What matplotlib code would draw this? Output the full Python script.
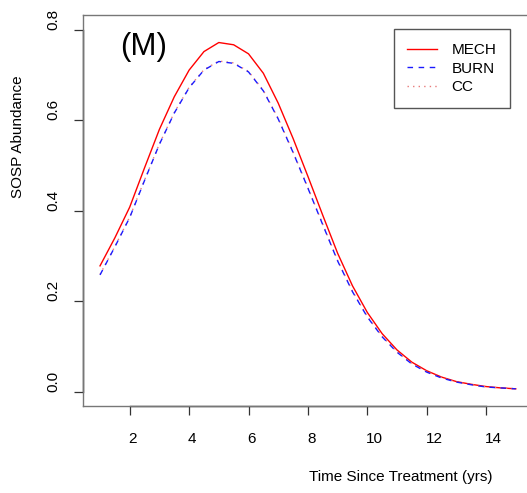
import matplotlib
matplotlib.use("Agg")
import matplotlib.pyplot as plt
import matplotlib.lines as mlines
from matplotlib.transforms import ScaledTranslation

plt.rcParams['font.family'] = ['Liberation Sans', 'DejaVu Sans']

# years since treatment
years = [1, 1.5, 2, 2.5, 3, 3.5, 4, 4.5, 5, 5.5, 6, 6.5, 7, 7.5, 8,
         8.5, 9, 9.5, 10, 10.5, 11, 11.5, 12, 12.5, 13, 13.5, 14, 14.5, 15]

mech = [0.278, 0.340, 0.408, 0.495, 0.580, 0.652, 0.711, 0.752, 0.772, 0.767,
        0.747, 0.704, 0.638, 0.560, 0.476, 0.390, 0.306, 0.234, 0.175, 0.128,
        0.092, 0.065, 0.046, 0.032, 0.022, 0.016, 0.011, 0.008, 0.006]
burn = [0.258, 0.320, 0.385, 0.467, 0.547, 0.616, 0.672, 0.711, 0.730, 0.726,
        0.707, 0.665, 0.603, 0.529, 0.450, 0.369, 0.289, 0.221, 0.165, 0.121,
        0.087, 0.061, 0.043, 0.030, 0.021, 0.015, 0.010, 0.008, 0.006]
cc = [0.259, 0.321, 0.386, 0.468, 0.548, 0.617, 0.673, 0.712, 0.731, 0.727,
      0.708, 0.666, 0.604, 0.530, 0.451, 0.370, 0.290, 0.222, 0.166, 0.122,
      0.088, 0.062, 0.044, 0.031, 0.021, 0.015, 0.010, 0.008, 0.006]

xticks = [2, 4, 6, 8, 10, 12, 14]
yticks = [0.0, 0.2, 0.4, 0.6, 0.8]

W, H = 527, 493
fig = plt.figure(figsize=(W / 100, H / 100), dpi=100)
# axes runs a bit past the right edge, like the cropped original
ax = fig.add_axes([83.4 / W, (H - 406) / H, 449 / W, 390.6 / H])

l_mech, = ax.plot(years, mech, color='#ff0000', lw=1.0)
ax.plot(years, cc, color='#e87a7a', lw=1.0, ls=(0, (1, 3)))
l_burn, = ax.plot(years, burn, color='#1a1aff', lw=1.0, ls=(0, (4, 4)))
cc_handle = mlines.Line2D([], [], color='#e87a7a', lw=1.0, ls=(0, (1, 3)))

ax.set_xlim(0.44, 15.56)
ax.set_ylim(-0.032, 0.832)

ax.set_xticks(xticks)
ax.set_xticklabels([str(t) for t in xticks])
ax.set_yticks(yticks)
ax.set_yticklabels(['%.1f' % t for t in yticks], rotation=90)

ax.tick_params(axis='both', direction='out', length=6.5, width=0.9,
               color='#333333', labelsize=11)
ax.tick_params(axis='x', pad=12)
ax.tick_params(axis='y', pad=10)
for lab in ax.get_yticklabels():
    lab.set_va('bottom')
for lab in ax.get_xticklabels():
    lab.set_ha('left')
    lab.set_transform(lab.get_transform() + ScaledTranslation(-1 / 100, 0, fig.dpi_scale_trans))

for s in ['left', 'bottom', 'top', 'right']:
    ax.spines[s].set_color('#777777')
    ax.spines[s].set_linewidth(1.0)

# darker axis lines between the first and last tick
ax.plot([0, 0], [0.0, 0.8], color='#222222', lw=1.0, clip_on=False,
        transform=ax.get_yaxis_transform())
ax.plot([2, 14], [0, 0], color='#222222', lw=1.0, clip_on=False,
        transform=ax.get_xaxis_transform())

leg = ax.legend([l_mech, l_burn, cc_handle], ['MECH', 'BURN', 'CC'],
                loc='upper right', bbox_to_anchor=(0.950, 0.964),
                borderaxespad=0, fontsize=11, handlelength=1.95,
                handletextpad=0.93, borderpad=0.9, labelspacing=0.3,
                fancybox=False, framealpha=1)
leg.get_frame().set_edgecolor('#555555')
leg.get_frame().set_linewidth(1.0)

fig.text(143.6 / W, 1 - 47 / H, '(M)', fontsize=22.5, ha='center', va='center')
fig.text(18 / W, 1 - 136.5 / H, 'SOSP Abundance', fontsize=11, rotation=90,
         ha='center', va='center')
fig.text(401 / W, 1 - 477 / H, 'Time Since Treatment (yrs)', fontsize=11,
         ha='center', va='center')

fig.savefig('out.png', dpi=100)
